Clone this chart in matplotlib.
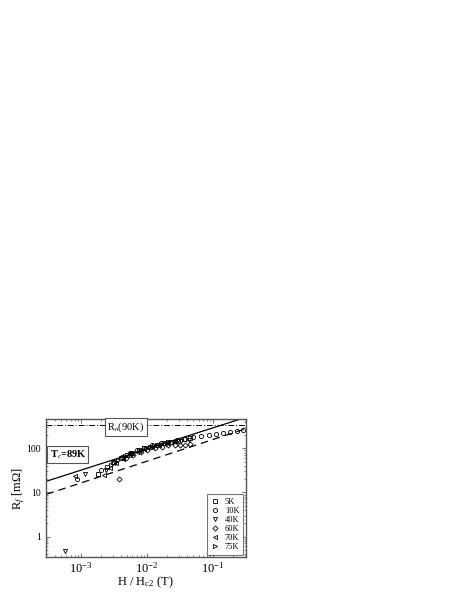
import matplotlib
matplotlib.use("Agg")
import matplotlib.pyplot as plt
import numpy as np

plt.rcParams['font.family'] = ['Liberation Serif', 'DejaVu Serif']
plt.rcParams['mathtext.fontset'] = 'custom'
plt.rcParams['mathtext.rm'] = 'Liberation Serif'
plt.rcParams['mathtext.it'] = 'Liberation Serif:italic'
plt.rcParams['mathtext.bf'] = 'Liberation Serif:bold'

# ---- data ----
labels = ['5K', '10K', '40K', '60K', '70K', '75K']
markers = ['s', 'o', 'v', 'D', '<', '>']

x_5K = [1.8e-3, 2.5e-3, 3.2e-3, 4.0e-3, 5.0e-3, 6.0e-3, 7.5e-3, 9.0e-3, 1.1e-2, 1.4e-2, 1.8e-2, 2.3e-2, 2.9e-2, 3.6e-2, 4.5e-2]
y_5K = [26, 38, 50, 60, 72, 80, 90, 100, 110, 122, 132, 142, 150, 160, 170]

x_10K = [8.8e-4, 2.0e-3, 3.0e-3, 4.2e-3, 5.5e-3, 7.0e-3, 9.0e-3, 1.2e-2, 1.6e-2, 2.1e-2, 2.8e-2, 3.7e-2, 5.0e-2, 6.5e-2, 8.5e-2, 0.11, 0.14, 0.18, 0.23, 0.28]
y_10K = [20, 32, 48, 65, 80, 92, 104, 118, 130, 142, 154, 165, 178, 190, 200, 212, 225, 238, 250, 260]

x_40K = [5.7e-4, 1.15e-3, 2.4e-3, 3.3e-3, 4.5e-3, 6.0e-3, 8.0e-3, 1.05e-2, 1.4e-2, 1.9e-2, 2.5e-2, 3.3e-2, 4.3e-2]
y_40K = [0.47, 26, 33, 47, 60, 74, 88, 100, 112, 125, 136, 146, 158]

x_60K = [3.8e-3, 4.8e-3, 6.2e-3, 8.0e-3, 1.0e-2, 1.3e-2, 1.7e-2, 2.1e-2, 2.6e-2, 3.1e-2, 3.7e-2, 4.4e-2]
y_60K = [20.2, 62, 72, 82, 92, 102, 110, 116, 119, 120, 121, 125]

x_70K = [8.1e-4, 2.2e-3, 2.7e-3, 3.4e-3, 4.3e-3, 5.4e-3, 7.0e-3, 9.0e-3, 1.2e-2, 1.5e-2, 2.0e-2, 2.6e-2]
y_70K = [23.6, 25, 36, 46, 58, 70, 84, 96, 108, 118, 132, 144]

x_75K = [2.8e-3, 3.6e-3, 4.6e-3, 5.8e-3, 7.5e-3, 9.5e-3, 1.25e-2, 1.6e-2, 2.1e-2, 2.7e-2]
y_75K = [42, 54, 66, 78, 92, 104, 116, 126, 138, 150]

series_x = [x_5K, x_10K, x_40K, x_60K, x_70K, x_75K]
series_y = [y_5K, y_10K, y_40K, y_60K, y_70K, y_75K]

solid_x = [3e-4, 0.3]
solid_y = [18, 496]
dashed_x = [3e-4, 0.3]
dashed_y = [9.1, 274]
Rn_value = 335

# ---- figure ----
fig = plt.figure(figsize=(4.63, 5.99), dpi=100)
ax = fig.add_axes([45.5/463, 1 - 557.3/599, (245.7-45.5)/463, (557.3-419.3)/599])

frame_col = '#555555'
for i in range(6):
    ms = 2.6 if markers[i] == 'D' else 3.0
    ax.plot(series_x[i], series_y[i], linestyle='none', marker=markers[i],
            markersize=ms, markerfacecolor='none', markeredgecolor='black',
            markeredgewidth=0.6, label=labels[i])

ax.plot(solid_x, solid_y, color='black', lw=0.9)
ax.plot(dashed_x, dashed_y, color='black', lw=0.9, dashes=(6, 4))
ax.axhline(Rn_value, color='black', lw=0.7, dashes=(6, 2, 1, 2))

ax.set_xscale('log')
ax.set_yscale('log')
ax.set_xlim(2.9e-4, 0.31)
ax.set_ylim(0.34, 455)

ax.set_xticks([1e-3, 1e-2, 1e-1])
ax.set_xticklabels([r'$10^{-3}$', r'$10^{-2}$', r'$10^{-1}$'], fontsize=9)
ax.set_yticks([1, 10, 100])
ax.set_yticklabels(['1', '10', '100'], fontsize=7)
ax.tick_params(which='both', direction='in', top=True, right=True, color=frame_col)
ax.tick_params(which='major', length=3, width=0.6)
ax.tick_params(which='minor', length=1.5, width=0.5)
ax.tick_params(axis='x', pad=3)
for s in ax.spines.values():
    s.set_color(frame_col)
    s.set_linewidth(1.0)

ax.set_xlabel(r'H / H$_{\rm c2}$ (T)', fontsize=9, labelpad=-1)
ax.set_ylabel(r'R$_f$ [m$\Omega$]', fontsize=9, labelpad=-1)

ax.text(0.112, 0.746, r'T$_c$=89K', transform=ax.transAxes, fontsize=7.5,
        fontweight='bold', va='center', ha='center',
        bbox=dict(boxstyle='square,pad=0.2', facecolor='white', edgecolor=frame_col, lw=0.8))
ax.text(0.402, 0.944, r'R$_n$(90K)', transform=ax.transAxes, fontsize=7.5,
        va='center', ha='center',
        bbox=dict(boxstyle='square,pad=0.2', facecolor='white', edgecolor=frame_col, lw=0.8))

leg = ax.legend(loc='lower right', fontsize=6, frameon=True, fancybox=False,
                edgecolor=frame_col, handlelength=1.0, handletextpad=0.7,
                labelspacing=0.12, borderpad=0.45, borderaxespad=0.3)
leg.get_frame().set_linewidth(0.8)

fig.savefig('out.png', dpi=100)
